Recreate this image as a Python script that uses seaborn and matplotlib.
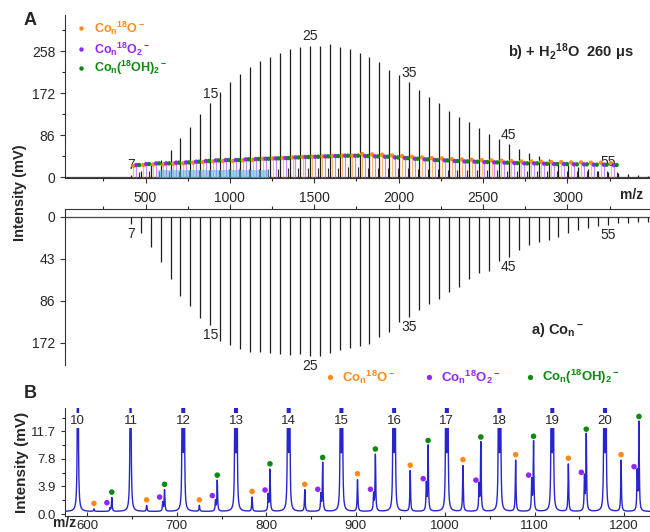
import numpy as np
import matplotlib
matplotlib.use('Agg')
import matplotlib.pyplot as plt
from matplotlib.patches import Rectangle
from matplotlib.lines import Line2D
import seaborn as sns

sns.set_style('ticks')
plt.rcParams['font.family'] = ['Liberation Sans', 'DejaVu Sans']
plt.rcParams['mathtext.fontset'] = 'custom'
plt.rcParams['mathtext.rm'] = 'Liberation Sans:bold'
plt.rcParams['mathtext.bf'] = 'Liberation Sans:bold'
plt.rcParams['mathtext.it'] = 'Liberation Sans:bold'
plt.rcParams['mathtext.default'] = 'bf'

CO = 58.933  # Co mass

# --- panel A, b) + H2 18O : Co_n peak heights (mV), n = 7..60
n_top = list(range(7, 61))
top_h = [5, 13, 25, 35, 55, 79, 103, 129, 151, 175,
         195, 211, 226, 238, 246, 255, 262, 267, 269, 269,
         273, 267, 263, 255, 246, 235, 220, 209, 194, 178,
         164, 151, 136, 123, 112, 100, 89, 77, 67, 57,
         50, 43, 36, 30, 25, 20, 16, 13, 10, 7.5,
         5.5, 4, 2.7, 2]

# satellite levels (dots), n = 7..55
n_sat = list(range(7, 56))
o_lvl = [22.6, 24.6, 26, 26, 27.4, 28, 29.4, 30.8, 32.1, 32.8,
         32.8, 34.2, 34.9, 37.5, 38.2, 38.9, 40.2, 41, 41.6, 42.3,
         43, 43.7, 43.7, 47, 46.3, 45.6, 44.2, 42.9, 41.5, 40.2,
         38.8, 38.1, 36.8, 36, 35.4, 34.7, 34, 33.4, 32.7, 32,
         32, 31.3, 30.6, 30.6, 30, 30, 29.3, 29.3, 28.6]
pg_lvl = [24.6, 26.6, 28, 28, 29.4, 30, 31.4, 32.8, 34.1, 34.8,
          34.8, 36.2, 36.9, 37.5, 38.2, 38.9, 40.2, 41, 41.6, 42.3,
          43, 43.7, 43.7, 43, 42.3, 41.6, 40.2, 38.9, 37.5, 36.2,
          34.8, 34.1, 32.8, 32, 31.4, 30.7, 30, 29.4, 28.7, 28,
          28, 27.3, 26.6, 26.6, 26, 26, 25.3, 25.3, 24.6]
top_labels = [7, 15, 25, 35, 45, 55]

# --- panel A, a) Co_n- : peak depths, n = 7..61 (axis units)
n_bot = list(range(7, 62))
bot_h = [7.8, 16.3, 31.2, 46, 64, 81, 92, 104, 111, 127,
         131, 136, 139, 139, 140, 141, 142, 141, 143, 143,
         140, 137, 135, 133, 130, 123, 118, 108, 103, 96,
         89, 84, 77, 72, 64, 58, 56, 45, 41.5, 34,
         29, 25.6, 24, 20.5, 17, 13.6, 12, 10, 8.5, 6.8,
         6.1, 5.4, 5.1, 4.5, 4]
bot_labels = [7, 15, 25, 35, 45, 55]
bot_ticks = [0, 43, 86, 129]
bot_ticklabels = ['0', '43', '86', '172']

# --- panel B zoom: n = 10..20, satellite peak heights (mV)
n_B = list(range(10, 21))
o_B = [0.7, 1.2, 1.2, 2.4, 3.4, 4.9, 6.1, 6.9, 7.6, 7.1, 7.6]
p_B = [0.8, 1.6, 1.8, 2.6, 2.7, 2.7, 4.2, 4.0, 4.7, 5.1, 5.9]
g_B = [2.3, 3.4, 4.7, 6.3, 7.2, 8.4, 9.6, 10.1, 10.2, 11.2, 13.0]
B_xlim = (575, 1229)

c_o, c_p, c_g = '#ff8a1c', '#9326ff', '#0b8a0b'
c_ol, c_pl = '#ffb870', '#c48cff'

fig = plt.figure(figsize=(6.5, 5.32), dpi=100)
axA = fig.add_axes([0.1, 0.6654, 0.9, 0.3064])
axa = fig.add_axes([0.1, 0.3139, 0.9, 0.2927])
axB = fig.add_axes([0.1, 0.0301, 0.9, 0.203])


def fig_dot(x, y, c, ms):
    fig.add_artist(Line2D([x], [y], marker='o', ms=ms, color=c, mec='none', transform=fig.transFigure))


# ---------- top spectrum
mz_top = CO * np.array(n_top)
axA.axhline(0, color='#444444', lw=0.9)
axA.vlines(mz_top, 0, top_h, color='#1e1e1e', lw=0.9, zorder=3)
mz_s = CO * np.array(n_sat)
# display positions of the three satellites inside each group
axA.vlines(mz_s + 16, 0, o_lvl, color=c_ol, lw=0.9, zorder=2)
axA.vlines(mz_s + 33, 0, pg_lvl, color=c_pl, lw=0.9, zorder=2)
axA.vlines(mz_s + 50, 0, np.array(pg_lvl) * 0.45, color='#333333', lw=0.8, zorder=2)
sns.scatterplot(x=mz_s + 16, y=o_lvl, color=c_o, s=10, edgecolor='none', ax=axA, zorder=4, legend=False)
sns.scatterplot(x=mz_s + 33, y=pg_lvl, color=c_p, s=10, edgecolor='none', ax=axA, zorder=4, legend=False)
sns.scatterplot(x=mz_s + 50, y=pg_lvl, color=c_g, s=10, edgecolor='none', ax=axA, zorder=4, legend=False)
axA.add_patch(Rectangle((B_xlim[0], -2), B_xlim[1] - B_xlim[0], 16, color='#5ab4e5', alpha=0.55, lw=0, zorder=5))
for n in top_labels:
    axA.annotate(str(n), (CO * n, top_h[n_top.index(n)]), xytext=(0, 2), textcoords='offset points',
                 ha='center', va='bottom', fontsize=10)
axA.set_xlim(23, 3489)
axA.set_ylim(-2, 332)
axA.set_yticks([0, 86, 172, 258])
axA.set_yticks([43, 129, 215, 301], minor=True)
axA.set_xticks([500, 1000, 1500, 2000, 2500, 3000])
axA.set_xticks(np.arange(250, 3500, 500), minor=True)
axA.tick_params(axis='both', labelsize=10, length=3.5, width=0.8, color='#333333')
axA.tick_params(axis='x', pad=6)
axA.tick_params(which='minor', length=2, width=0.8)
sns.despine(ax=axA, top=True, right=True)
for s in ['left', 'bottom']:
    axA.spines[s].set_color('#333333')

# legend in A
for i, (lab, c) in enumerate([(r'Co$_n$$^{18}$O$^-$', c_o), (r'Co$_n$$^{18}$O$_2$$^-$', c_p),
                              (r'Co$_n$($^{18}$OH)$_2$$^-$', c_g)]):
    yy = [0.9468, 0.9073, 0.8716][i]
    fig_dot(0.1246, yy, c, 3.2)
    fig.text(0.1446, yy, lab, color=c, fontsize=9, fontweight='bold', ha='left', va='center')
fig.text(0.878, 0.902, r'b) + H$_2$$^{18}$O  260 μs', fontsize=10.5, fontweight='bold', ha='center', va='center')

# ---------- bottom spectrum (inverted)
mz_b = CO * np.array(n_bot)
axa.axhline(0, color='#444444', lw=0.9)
axa.vlines(mz_b, 0, bot_h, color='#1e1e1e', lw=0.9)
for n in bot_labels:
    axa.annotate(str(n), (CO * n, bot_h[n_bot.index(n)]), xytext=(0, -2), textcoords='offset points',
                 ha='center', va='top', fontsize=10)
axa.set_xlim(23, 3489)
axa.set_ylim(152, -7.6)
axa.set_yticks(bot_ticks)
axa.set_yticklabels(bot_ticklabels)
axa.xaxis.tick_top()
axa.set_xticks([500, 1000, 1500, 2000, 2500, 3000])
axa.set_xticks(np.arange(250, 3500, 500), minor=True)
axa.tick_params(axis='x', labeltop=False, labelbottom=False)
axa.tick_params(axis='both', labelsize=10, length=3.5, width=0.8, color='#333333')
axa.tick_params(which='minor', length=2, width=0.8)
axa.spines['bottom'].set_visible(False)
axa.spines['right'].set_visible(False)
for s in ['left', 'top']:
    axa.spines[s].set_color('#333333')
fig.text(0.858, 0.38, r'a) Co$_n$$^-$', fontsize=10.5, fontweight='bold', ha='center', va='center')
fig.text(0.972, 0.633, 'm/z', fontsize=10, fontweight='bold', ha='center', va='center')
fig.text(0.031, 0.638, 'Intensity (mV)', fontsize=10.5, fontweight='bold', rotation=90, ha='center', va='center')
fig.text(0.046, 0.962, 'A', fontsize=13, fontweight='bold', ha='center', va='center')

# ---------- panel B zoomed spectrum
xb = np.linspace(B_xlim[0], B_xlim[1], 5000)
base = 0.35


def lor(x, x0, h, g=0.45):
    return h / (1 + ((x - x0) / g) ** 2)


yb = np.full_like(xb, base)
for i, n in enumerate(n_B):
    m = CO * n
    if n >= 12:
        yb += lor(xb, m - 1.0, 30, 0.4) + lor(xb, m + 1.0, 30, 0.4)
    else:
        yb += lor(xb, m, 40)
    yb += lor(xb, m + 18, o_B[i] - base) + lor(xb, m + 36, p_B[i] - base) + lor(xb, m + 38, g_B[i] - base)

sns.lineplot(x=xb, y=yb, ax=axB, color='#2626cc', lw=1.0, estimator=None, sort=False)
mzB = CO * np.array(n_B)
sns.scatterplot(x=mzB + 18, y=np.array(o_B) + 0.8, color=c_o, s=16, edgecolor='none', ax=axB, zorder=4, legend=False)
sns.scatterplot(x=mzB + 32.5, y=np.array(p_B) + 0.8, color=c_p, s=16, edgecolor='none', ax=axB, zorder=4, legend=False)
sns.scatterplot(x=mzB + 38, y=np.array(g_B) + 0.8, color=c_g, s=16, edgecolor='none', ax=axB, zorder=4, legend=False)
for n in n_B:
    axB.text(CO * n, 13.2, str(n), ha='center', va='center', fontsize=9.5, zorder=5,
             bbox=dict(boxstyle='square,pad=0.12', fc='white', ec='none'))
axB.set_xlim(*B_xlim)
axB.set_ylim(-0.28, 15.0)
axB.set_yticks([0, 3.9, 7.8, 11.7])
axB.set_yticklabels(['0.0', '3.9', '7.8', '11.7'])
axB.set_yticks([1.95, 5.85, 9.75, 13.65], minor=True)
axB.set_xticks([600, 700, 800, 900, 1000, 1100, 1200])
axB.set_xticks(np.arange(650, 1250, 100), minor=True)
axB.tick_params(axis='both', labelsize=9.5, length=3, width=0.8, color='#333333')
axB.tick_params(axis='x', direction='in', pad=3)
axB.tick_params(which='minor', length=2, width=0.8)
sns.despine(ax=axB, top=True, right=True)
for s in ['left', 'bottom']:
    axB.spines[s].set_color('#333333')
fig.text(0.1, 0.016, 'm/z', fontsize=10, fontweight='bold', ha='center', va='center')
fig.text(0.034, 0.13, 'Intensity (mV)', fontsize=11, fontweight='bold', rotation=90, ha='center', va='center')
fig.text(0.046, 0.261, 'B', fontsize=13, fontweight='bold', ha='center', va='center')

# legend in B
for xd, lab, c in [(0.5077, r'Co$_n$$^{18}$O$^-$', c_o), (0.66, r'Co$_n$$^{18}$O$_2$$^-$', c_p),
                   (0.8154, r'Co$_n$($^{18}$OH)$_2$$^-$', c_g)]:
    fig_dot(xd, 0.2914, c, 3.8)
    fig.text(xd + 0.019, 0.2914, lab, color=c, fontsize=9.5, fontweight='bold', ha='left', va='center')

fig.savefig('out.png', dpi=100)
